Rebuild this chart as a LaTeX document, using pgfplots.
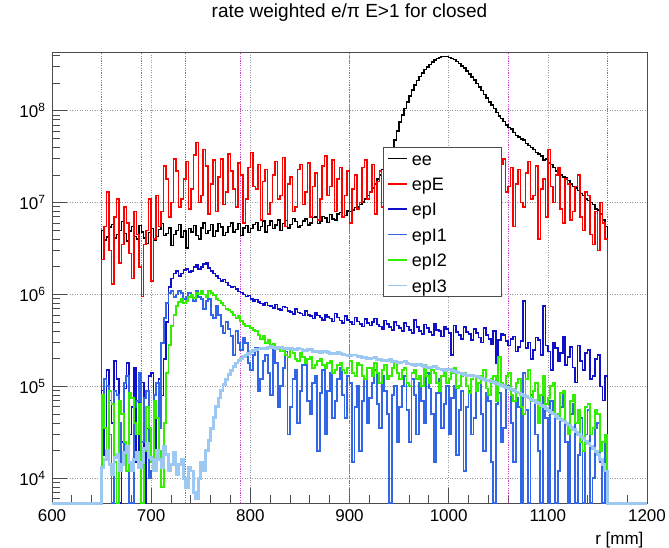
\documentclass[border=0pt]{standalone}
\usepackage{fontspec}
\setmainfont{Liberation Sans}
\usepackage{pgfplots}
\usepackage{pgfplotstable}
\pgfplotsset{compat=1.18}
\definecolor{cEpE}{HTML}{FF0000}
\definecolor{cEpI}{HTML}{1010C8}
\definecolor{cEpIa}{HTML}{3366E6}
\definecolor{cEpIb}{HTML}{33EE00}
\definecolor{cEpIc}{HTML}{9CC8F2}
\definecolor{cMag}{HTML}{CC44CC}

\pgfplotstableread{
x ee epE epI epIa epIb epIc
600 5350 5350 5350 5350 5350 5350
650 5.0e6 2.4e6 9.0e4 6.0e4 8.0e4 1.3e4
652.5 3.9e6 5.5e6 1.8e4 1.2e5 3.5e4 1.6e4
655 4.2e6 1.3e7 1.5e5 1.0e5 2.0e4 2.0e4
657.5 5.4e6 3.0e6 7.0e4 3.0e4 9.0e4 1.4e4
660 5.8e6 1.3e6 4.0e4 5350 6.5e4 1.1e4
662.5 4.1e6 7.0e6 1.9e5 9.0e4 1.5e4 1.7e4
665 4.5e6 1.1e7 1.2e5 8.0e4 5350 1.8e4
667.5 5.0e6 2.2e6 5350 4.0e4 7.0e4 1.2e4
670 6.2e6 3.5e6 2.5e4 1.5e4 5.0e4 1.4e4
672.5 4.6e6 9.0e6 9.5e4 1.1e5 2.5e4 1.9e4
675 3.8e6 6.0e6 1.8e5 1.3e5 1.2e4 2.2e4
677.5 4.9e6 2.8e6 3.0e4 5350 8.5e4 1.5e4
680 5.5e6 1.5e6 6.0e4 5350 7.5e4 1.2e4
682.5 4.3e6 8.0e6 1.6e5 6.0e4 4.0e4 1.6e4
685 4.0e6 4.5e6 1.5e4 7.0e4 3.0e4 1.9e4
687.5 5.6e6 2.0e6 8.5e4 1.4e5 6.5e4 1.3e4
690 4.8e6 9.5e5 1.1e5 2.5e4 5350 1.5e4
692.5 4.1e6 3.5e6 5350 7.5e4 2.0e4 2.1e4
695 3.6e6 5.0e6 3.5e4 9.0e4 6.0e4 2.4e4
697.5 4.7e6 1.1e7 1.3e5 1.0e4 3.5e4 1.7e4
700 5.2e6 1.4e6 1.4e5 1.2e4 1.5e4 1.6e4
702.5 3.9e6 4.0e6 6.5e4 8.0e4 7.0e4 1.2e4
705 4.3e6 1.2e7 2.0e4 1.1e5 4.5e4 2.0e4
707.5 5.1e6 5.5e6 1.2e5 3.5e4 2.0e4 1.6e4
710 5.9e6 8.0e6 8.0e4 3.0e5 8.0e3 1.3e4
712.5 4.4e6 2.5e7 2.0e5 5.5e5 4.0e4 2.2e4
715 4.6e6 1.8e7 5.0e5 8.0e5 1.4e5 1.8e4
717.5 5.3e6 7.0e6 1.2e6 1.05e6 2.8e5 1.2e4
720 3.4e6 1.0e7 1.5e6 1.1e6 4.5e5 1.4e4
722.5 4.5e6 3.0e7 1.7e6 9.5e5 6.0e5 1.9e4
725 5.0e6 2.2e7 1.8e6 1.0e6 7.5e5 1.1e4
727.5 5.8e6 9.0e6 1.6e6 1.1e6 8.2e5 1.4e4
730 4.2e6 1.1e7 1.7e6 1.05e6 9.0e5 1.6e4
732.5 4.9e6 1.8e7 1.85e6 9.0e5 8.0e5 1.0e4
735 3.2e6 2.8e7 1.9e6 9.5e5 8.5e5 8.0e3
737.5 5.2e6 8.5e6 1.75e6 1.05e6 9.5e5 1.3e4
740 4.8e6 1.4e7 1.8e6 1.0e6 1.0e6 1.2e4
742.5 5.6e6 3.3e7 2.0e6 8.5e5 9.2e5 7.0e3
745 4.4e6 4.5e7 2.1e6 1.1e6 1.05e6 6.0e3
747.5 4.0e6 1.0e7 1.9e6 9.5e5 1.0e6 1.0e4
750 5.3e6 1.2e7 2.0e6 9.0e5 1.1e6 1.5e4
752.5 6.0e6 3.8e7 2.15e6 7.0e5 1.0e6 1.2e4
755 4.6e6 2.5e7 2.2e6 8.5e5 9.5e5 2.0e4
757.5 5.0e6 7.5e6 1.95e6 9.0e5 1.1e6 2.6e4
760 5.8e6 1.6e7 1.8e6 6.0e5 1.05e6 3.5e4
762.5 4.3e6 2.9e7 1.7e6 5.5e5 9.8e5 4.6e4
765 4.9e6 8.0e6 1.6e6 7.5e5 9.0e5 6.0e4
767.5 5.9e6 1.9e7 1.5e6 6.0e5 8.6e5 7.5e4
770 5.4e6 3.0e7 1.4e6 4.5e5 8.0e5 9.0e4
772.5 4.4e6 9.5e6 1.45e6 3.8e5 7.6e5 1.05e5
775 4.7e6 1.3e7 1.35e6 5.0e5 7.0e5 1.2e5
777.5 5.5e6 3.4e7 1.25e6 4.2e5 6.8e5 1.35e5
780 6.0e6 2.2e7 1.2e6 3.5e5 6.5e5 1.5e5
782.5 4.8e6 1.4e7 1.22e6 2.2e5 6.0e5 1.65e5
785 5.1e6 9.0e6 1.15e6 4.0e5 5.5e5 1.8e5
787.5 5.9e6 2.7e7 1.08e6 3.0e5 5.8e5 1.9e5
790 4.4e6 2.0e7 1.05e6 2.5e5 5.2e5 2.0e5
792.5 5.3e6 6.0e6 1.0e6 3.4e5 4.8e5 2.1e5
795 5.6e6 1.1e7 9.5e5 3.0e5 4.5e5 2.2e5
797.5 4.7e6 2.4e7 9.8e5 1.8e5 4.6e5 2.3e5
800 5.2e6 3.5e7 9.0e5 1.5e5 4.3e5 2.4e5
802.5 5.8e6 1.5e7 8.5e5 2.2e5 4.1e5 2.45e5
805 6.1e6 1.4e7 8.8e5 2.6e5 4.0e5 2.5e5
807.5 5.0e6 2.6e7 8.3e5 9.0e4 3.6e5 2.55e5
810 5.5e6 6.5e6 8.0e5 1.2e5 3.3e5 2.6e5
812.5 6.3e6 1.7e7 7.7e5 1.9e5 3.5e5 2.62e5
815 4.8e6 2.3e7 8.2e5 2.2e5 3.0e5 2.55e5
817.5 5.6e6 7.5e6 7.6e5 1.4e5 3.2e5 2.65e5
820 6.3e6 1.0e7 7.5e5 8.0e4 2.8e5 2.7e5
822.5 5.2e6 2.0e7 7.1e5 2.5e5 2.9e5 2.63e5
825 5.7e6 2.8e7 7.8e5 1.8e5 2.6e5 2.6e5
827.5 6.5e6 1.1e7 7.0e5 6.0e4 2.7e5 2.68e5
830 5.0e6 1.2e7 6.8e5 1.0e5 2.4e5 2.65e5
832.5 5.9e6 3.1e7 7.4e5 1.6e5 2.6e5 2.6e5
835 6.4e6 5.5e6 7.2e5 2.4e5 2.2e5 2.55e5
837.5 5.3e6 1.6e7 6.6e5 3.0e4 2.1e5 2.62e5
840 5.8e6 1.9e7 6.5e5 6.0e4 2.5e5 2.6e5
842.5 6.7e6 8.0e6 6.1e5 1.2e5 2.3e5 2.52e5
845 6.2e6 9.0e6 7.0e5 1.5e5 2.0e5 2.5e5
847.5 5.4e6 2.3e7 6.4e5 4.0e4 1.9e5 2.58e5
850 5.6e6 2.6e7 6.2e5 9.0e4 2.3e5 2.55e5
852.5 6.3e6 9.5e6 5.9e5 1.7e5 2.1e5 2.48e5
855 6.6e6 1.3e7 6.6e5 2.0e5 1.8e5 2.45e5
857.5 5.7e6 2.7e7 6.0e5 7.0e4 2.0e5 2.52e5
860 6.0e6 7.0e6 5.8e5 5.0e4 2.1e5 2.5e5
862.5 6.9e6 1.5e7 5.5e5 1.1e5 1.6e5 2.42e5
865 7.0e6 2.1e7 6.4e5 1.3e5 1.7e5 2.4e5
867.5 5.9e6 6.5e6 5.9e5 2.0e4 1.9e5 2.38e5
870 6.2e6 1.1e7 5.6e5 8.5e4 2.0e5 2.35e5
872.5 7.1e6 2.5e7 5.3e5 1.5e5 1.7e5 2.42e5
875 6.8e6 3.2e7 6.0e5 3.0e4 1.6e5 2.4e5
877.5 6.1e6 1.2e7 5.7e5 9.0e4 1.8e5 2.32e5
880 7.4e6 1.5e7 5.5e5 1.4e5 1.9e5 2.3e5
882.5 6.6e6 2.9e7 5.1e5 4.5e4 1.4e5 2.28e5
885 6.5e6 8.0e6 6.2e5 7.0e4 1.5e5 2.25e5
887.5 7.5e6 1.8e7 5.6e5 1.2e5 1.7e5 2.32e5
890 7.8e6 2.4e7 5.2e5 1.6e5 1.8e5 2.3e5
892.5 6.9e6 7.0e6 4.9e5 8.0e4 1.5e5 2.22e5
895 7.2e6 1.2e7 5.8e5 4.5e4 1.4e5 2.2e5
897.5 8.1e6 2.2e7 5.3e5 1.3e5 1.6e5 2.18e5
900 8.0e6 6.0e6 5.0e5 1.1e5 1.9e5 2.15e5
902.5 8.3e6 1.4e7 4.7e5 1.5e4 1.4e5 2.2e5
905 8.8e6 2.0e7 5.6e5 6.0e4 1.3e5 2.2e5
907.5 9.0e6 8.5e6 5.1e5 1.0e5 1.8e5 2.12e5
910 9.5e6 1.0e7 4.8e5 2.0e4 1.7e5 2.1e5
912.5 1.02e7 2.4e7 4.5e5 7.0e4 1.3e5 2.08e5
915 1.1e7 2.9e7 5.4e5 1.2e5 1.2e5 2.05e5
917.5 1.2e7 1.1e7 4.9e5 4.0e4 1.6e5 2.02e5
920 1.3e7 1.3e7 4.6e5 7.5e4 1.6e5 2.0e5
922.5 1.45e7 2.6e7 5.0e5 1.1e5 1.3e5 2.04e5
925 1.6e7 7.5e6 5.5e5 1.5e5 1.8e5 2.05e5
927.5 1.8e7 1.7e7 4.7e5 6.5e4 1.4e5 1.97e5
930 2.0e7 2.2e7 4.5e5 3.5e4 1.1e5 1.95e5
932.5 2.3e7 9.0e6 4.2e5 1.3e5 1.5e5 1.92e5
935 2.6e7 1.1e7 5.2e5 9.0e4 1.7e5 1.9e5
937.5 3.0e7 2.5e7 4.8e5 5.0e4 1.2e5 1.93e5
940 3.4e7 3.0e7 4.4e5 5350 1.3e5 1.95e5
942.5 4.0e7 1.2e7 4.1e5 8.0e4 1.6e5 1.88e5
945 4.8e7 1.4e7 5.0e5 1.0e5 1.9e5 1.85e5
947.5 6.0e7 2.3e7 4.6e5 2.5e4 1.4e5 1.83e5
950 7.5e7 9.0e6 4.3e5 6.0e4 1.2e5 1.8e5
952.5 9.0e7 1.8e7 4.0e5 1.0e5 1.5e5 1.84e5
955 1.05e8 2.5e7 4.9e5 1.3e5 1.6e5 1.85e5
957.5 1.25e8 8.0e6 4.5e5 5.5e4 1.1e5 1.77e5
960 1.45e8 1.2e7 4.1e5 2.5e4 1.0e5 1.75e5
962.5 1.68e8 2.2e7 3.8e5 1.2e5 1.4e5 1.72e5
965 1.9e8 2.7e7 5.3e5 8.0e4 1.5e5 1.7e5
967.5 2.12e8 1.0e7 4.4e5 3.0e4 1.2e5 1.73e5
970 2.35e8 1.6e7 4.0e5 1.1e5 1.3e5 1.75e5
972.5 2.58e8 2.6e7 3.7e5 7.0e4 1.0e5 1.68e5
975 2.8e8 3.0e7 4.7e5 4.0e4 1.7e5 1.65e5
977.5 3.0e8 1.3e7 4.3e5 1.4e5 1.3e5 1.62e5
980 3.2e8 1.0e7 3.9e5 9.5e4 1.1e5 1.6e5
982.5 3.4e8 2.5e7 3.6e5 5.0e4 1.5e5 1.63e5
985 3.55e8 2.0e7 4.8e5 1.5e4 1.4e5 1.65e5
987.5 3.7e8 9.0e6 4.1e5 8.5e4 1.1e5 1.57e5
990 3.8e8 1.3e7 4.0e5 1.2e5 9.0e4 1.55e5
992.5 3.88e8 2.3e7 3.5e5 3.5e4 1.3e5 1.52e5
995 3.9e8 2.8e7 4.5e5 6.5e4 1.5e5 1.5e5
997.5 3.87e8 1.2e7 4.2e5 1.0e5 1.1e5 1.53e5
1000 3.8e8 1.1e7 3.8e5 3.0e4 1.2e5 1.55e5
1002.5 3.72e8 1.9e7 2.2e5 7.5e4 1.4e5 1.48e5
1005 3.6e8 2.4e7 4.6e5 1.0e5 1.6e5 1.45e5
1007.5 3.45e8 1.3e7 3.9e5 1.8e4 9.5e4 1.42e5
1010 3.25e8 8.0e6 3.6e5 5.5e4 1.0e5 1.4e5
1012.5 3.08e8 2.6e7 3.3e5 9.0e4 1.3e5 1.37e5
1015 2.9e8 2.1e7 4.4e5 1.2e4 1.4e5 1.35e5
1017.5 2.7e8 9.0e6 3.9e5 6.0e4 1.0e5 1.32e5
1020 2.5e8 1.2e7 3.7e5 9.0e4 8.5e4 1.3e5
1022.5 2.32e8 2.4e7 3.2e5 3.0e4 1.2e5 1.31e5
1025 2.15e8 3.3e7 4.2e5 4.5e4 1.3e5 1.3e5
1027.5 1.98e8 1.4e7 3.8e5 1.1e5 9.0e4 1.27e5
1030 1.8e8 1.0e7 3.4e5 1.1e5 1.1e5 1.25e5
1032.5 1.65e8 2.7e7 3.0e5 5.0e4 1.3e5 1.22e5
1035 1.5e8 2.0e7 4.3e5 2.0e4 1.5e5 1.2e5
1037.5 1.38e8 1.1e7 3.6e5 8.5e4 9.5e4 1.17e5
1040 1.25e8 6.5e6 3.3e5 7.0e4 8.0e4 1.15e5
1042.5 1.15e8 1.7e7 2.9e5 1.5e4 1.2e5 1.12e5
1045 1.05e8 2.2e7 4.0e5 5350 1.3e5 1.1e5
1047.5 9.6e7 8.0e6 1.8e5 6.5e4 7.0e4 1.07e5
1050 8.8e7 1.1e7 3.2e5 8.5e4 2.1e5 1.05e5
1052.5 8.2e7 2.6e7 3.7e5 2.5e4 1.1e5 1.02e5
1055 7.6e7 3.0e7 3.6e5 3.5e4 1.0e5 1.0e5
1057.5 7.0e7 1.3e7 3.1e5 9.5e4 1.3e5 9.7e4
1060 6.6e7 1.5e7 2.8e5 1.0e5 1.4e5 9.5e4
1062.5 6.3e7 2.4e7 3.3e5 4.0e4 8.0e4 9.2e4
1065 5.8e7 5.5e6 3.5e5 1.5e4 7.0e4 9.0e4
1067.5 5.4e7 1.6e7 2.4e5 7.5e4 1.1e5 8.7e4
1070 5.2e7 2.3e7 2.7e5 6.0e4 1.2e5 8.5e4
1072.5 4.9e7 1.0e7 3.1e5 5350 6.0e4 8.2e4
1075 4.8e7 9.0e6 8.5e5 1.4e5 5.0e4 8.0e4
1077.5 4.4e7 2.1e7 2.6e5 5.5e4 1.2e5 7.7e4
1080 4.2e7 2.8e7 3.0e5 5350 1.5e5 7.5e4
1082.5 4.0e7 1.1e7 2.0e5 8.0e4 7.0e4 7.2e4
1085 3.8e7 1.2e7 2.5e5 7.0e4 9.0e4 7.0e4
1087.5 3.5e7 2.5e7 3.4e5 3.0e4 1.1e5 6.7e4
1090 3.4e7 4.0e6 3.2e5 2.0e4 4.0e4 6.5e4
1092.5 3.2e7 1.4e7 2.2e5 5350 8.0e4 6.2e4
1095 2.9e7 1.8e7 7.5e5 9.0e4 1.3e5 6.0e4
1097.5 3.0e7 7.0e6 2.8e5 4.5e4 6.5e4 5.7e4
1100 2.7e7 3.8e7 2.4e5 5350 7.5e4 5.5e4
1102.5 2.6e7 1.5e7 1.5e5 7.0e4 1.0e5 5.2e4
1105 2.4e7 1.0e7 3.0e5 5.0e4 1.1e5 5.0e4
1107.5 2.2e7 2.0e7 2.6e5 5350 5.0e4 4.7e4
1110 2.1e7 2.4e7 1.9e5 1.2e4 4.5e4 4.5e4
1112.5 2.0e7 8.5e6 2.3e5 6.0e4 8.5e4 4.4e4
1115 1.9e7 6.0e6 3.5e5 8.0e4 9.0e4 4.2e4
1117.5 1.85e7 1.8e7 1.7e5 2.5e4 4.0e4 4.0e4
1120 1.75e7 1.6e7 2.1e5 5350 3.0e4 3.8e4
1122.5 1.6e7 6.5e6 2.7e5 5.0e4 7.0e4 3.6e4
1125 1.5e7 8.0e6 1.6e5 6.5e4 8.0e4 3.4e4
1127.5 1.45e7 1.5e7 1.1e5 5350 4.0e4 3.2e4
1130 1.35e7 2.0e7 2.8e5 1.8e4 5.5e4 3.0e4
1132.5 1.25e7 7.0e6 1.9e5 4.5e4 2.5e4 2.85e4
1135 1.2e7 5.0e6 1.5e5 5350 2.0e4 2.7e4
1137.5 1.1e7 1.3e7 2.3e5 3.0e4 6.0e4 2.55e4
1140 1.05e7 1.2e7 2.5e5 5.5e4 6.5e4 2.4e4
1142.5 1.0e7 4.5e6 1.2e5 5350 3.0e4 2.25e4
1145 9.5e6 3.5e6 1.3e5 1.0e4 3.5e4 2.1e4
1147.5 8.5e6 8.0e6 2.0e5 3.5e4 5.5e4 1.95e4
1150 8.3e6 3.0e6 2.2e5 4.0e4 5.0e4 1.8e4
1152.5 7.5e6 1.0e7 1.0e5 1.5e4 2.0e4 1.6e4
1155 6.5e6 6.0e6 7.0e4 5350 2.5e4 1.4e4
1157.5 5.5e6 4.0e6 1.3e5 2.5e4 3.0e4 1.2e4
1160 5350 5350 5350 5350 5350 5350
1200 5350 5350 5350 5350 5350 5350
}\datatable

\begin{document}
\begin{tikzpicture}
\useasboundingbox (0pt,0pt) rectangle (669pt,548pt);
\begin{axis}[
  at={(52pt,44.7pt)}, anchor=south west,
  scale only axis, width=595pt, height=451pt,
  xmin=600, xmax=1200, ymode=log, ymin=5350, ymax=4.32e8,
  clip=false,
  xtick={600,700,800,900,1000,1100,1200},
  xticklabels={600,700,800,900,1000,1100,1200},
  minor x tick num=4,
  ytick={1e4,1e5,1e6,1e7,1e8},
  yticklabels={10\textsuperscript{4},10\textsuperscript{5},10\textsuperscript{6},10\textsuperscript{7},10\textsuperscript{8}},
  minor ytick={6e3,7e3,8e3,9e3,2e4,3e4,4e4,5e4,6e4,7e4,8e4,9e4,2e5,3e5,4e5,5e5,6e5,7e5,8e5,9e5,2e6,3e6,4e6,5e6,6e6,7e6,8e6,9e6,2e7,3e7,4e7,5e7,6e7,7e7,8e7,9e7,2e8,3e8,4e8},
  tick align=inside, xtick pos=bottom, ytick pos=left,
  major tick length=15pt, minor tick length=8pt,
  grid=major, major grid style={gray!80, dash pattern=on 1pt off 1.5pt, line width=0.6pt},
  axis line style={black!70, line width=0.8pt},
  tick style={black!70, line width=0.7pt},
  ticklabel style={font=\fontsize{17}{17}\selectfont},
  xticklabel style={yshift=-3pt},
  yticklabel style={xshift=-3pt},
  xlabel={r [mm]},
  xlabel style={at={(1,0)}, anchor=base east, yshift=-41pt, font=\fontsize{17}{17}\selectfont},
  title={rate weighted e/π E>1 for closed},
  title style={at={(0.5,1)}, anchor=center, yshift=34pt, font=\fontsize{19}{19}\selectfont},
  legend style={at={(0.5563,0.79)}, anchor=north west, draw=black!70, line width=0.6pt, fill=white,
    font=\fontsize{18}{21}\selectfont, inner xsep=4pt, inner ysep=2pt, row sep=7.2pt, column sep=3pt,
    nodes={inner sep=1pt}},
  legend cell align=left,
  legend image code/.code={\draw[#1, line width=1.5pt] (0pt,0pt) -- (19pt,0pt);},
]
\addplot[cMag, dash pattern=on 1.2pt off 1.2pt, line width=1pt, forget plot] coordinates {(650,5350) (650,4.32e8)};
\addplot[cMag, dash pattern=on 1.2pt off 1.2pt, line width=1pt, forget plot] coordinates {(690,5350) (690,4.32e8)};
\addplot[cMag, dash pattern=on 1.2pt off 1.2pt, line width=1pt, forget plot] coordinates {(735,5350) (735,4.32e8)};
\addplot[cMag, dash pattern=on 1.2pt off 1.2pt, line width=1pt, forget plot] coordinates {(790,5350) (790,4.32e8)};
\addplot[cMag, dash pattern=on 1.2pt off 1.2pt, line width=1pt, forget plot] coordinates {(900,5350) (900,4.32e8)};
\addplot[cMag, dash pattern=on 1.2pt off 1.2pt, line width=1pt, forget plot] coordinates {(1060,5350) (1060,4.32e8)};
\addplot[cMag, dash pattern=on 1.2pt off 1.2pt, line width=1pt, forget plot] coordinates {(1160,5350) (1160,4.32e8)};

\addplot[const plot, black, line width=1.5pt] table[x=x,y=ee]{\datatable};
\addplot[const plot, cEpE, line width=1.5pt] table[x=x,y=epE]{\datatable};
\addplot[const plot, cEpI, line width=1.6pt] table[x=x,y=epI]{\datatable};
\addplot[const plot, cEpIa, line width=1.9pt] table[x=x,y=epIa]{\datatable};
\addplot[const plot, cEpIb, line width=1.9pt] table[x=x,y=epIb]{\datatable};
\addplot[const plot, cEpIc, line width=2.8pt] table[x=x,y=epIc]{\datatable};
\legend{\makebox[84pt][l]{\strut ee},\makebox[84pt][l]{\strut epE},\makebox[84pt][l]{\strut epI},\makebox[84pt][l]{\strut epI1},\makebox[84pt][l]{\strut epI2},\makebox[84pt][l]{\strut epI3}}
\end{axis}
\end{tikzpicture}
\end{document}
